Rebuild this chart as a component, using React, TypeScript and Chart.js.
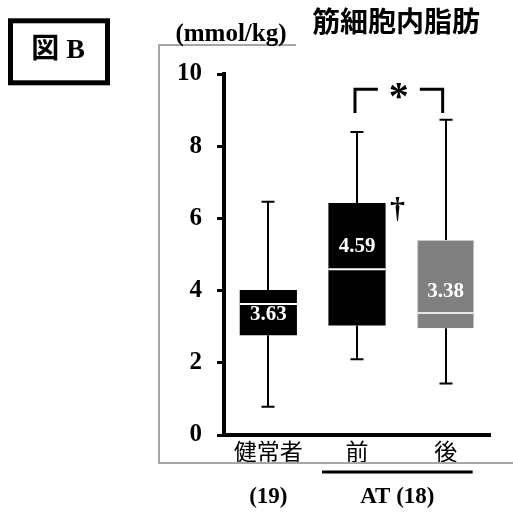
import { useEffect, useRef } from "react";
import { Chart, registerables } from "chart.js";

Chart.register(...registerables);

const categories = ["健常者", "前", "後"];
const whiskerLow = [0.78, 2.1, 1.43];
const q1 = [2.76, 3.03, 2.96];
const medians = [3.63, 4.59, 3.38];
const q3 = [4.02, 6.43, 5.4];
const whiskerHigh = [6.46, 8.39, 8.73];
const medianLabels = ["3.63", "4.59", "3.38"];
const yTicks = [0, 2, 4, 6, 8, 10];
const groupLabels = ["(19)", "AT (18)"];
const boxColors = ["#000000", "#000000", "#808080"];
const boxBorders = ["#000000", "#000000", "#c8c8c8"];

const SERIF = '"Liberation Serif", "Times New Roman", "Noto Sans CJK JP", serif';
const CJK = '"Noto Sans CJK JP", "Noto Sans CJK SC", sans-serif';

const labelOffsets = [11, -23, -21];

const boxExtras = {
  id: "boxExtras",
  afterDatasetsDraw(chart: any) {
    const ctx = chart.ctx;
    const y = chart.scales.y;
    const meta = chart.getDatasetMeta(0);
    ctx.save();
    categories.forEach((_c, i) => {
      const bar = meta.data[i];
      const cx = Math.round(bar.x);
      const half = bar.width / 2;
      const cap = 6.5;
      ctx.strokeStyle = "#000";
      ctx.lineWidth = 2;
      ctx.beginPath();
      ctx.moveTo(cx, y.getPixelForValue(q3[i]));
      ctx.lineTo(cx, y.getPixelForValue(whiskerHigh[i]));
      ctx.moveTo(cx, y.getPixelForValue(q1[i]));
      ctx.lineTo(cx, y.getPixelForValue(whiskerLow[i]));
      ctx.moveTo(cx - cap, y.getPixelForValue(whiskerHigh[i]));
      ctx.lineTo(cx + cap, y.getPixelForValue(whiskerHigh[i]));
      ctx.moveTo(cx - cap, y.getPixelForValue(whiskerLow[i]));
      ctx.lineTo(cx + cap, y.getPixelForValue(whiskerLow[i]));
      ctx.stroke();

      // median line
      ctx.strokeStyle = i === 2 ? "#e6e6e6" : "#ffffff";
      ctx.lineWidth = 2;
      const my = y.getPixelForValue(medians[i]);
      ctx.beginPath();
      ctx.moveTo(bar.x - half, my);
      ctx.lineTo(bar.x + half, my);
      ctx.stroke();

      // value label
      ctx.fillStyle = "#ffffff";
      ctx.font = `bold 21px ${SERIF}`;
      ctx.textAlign = "center";
      ctx.textBaseline = "middle";
      ctx.fillText(medianLabels[i], bar.x, my + labelOffsets[i]);
    });

    // dagger next to 前 box
    const b1 = meta.data[1];
    ctx.fillStyle = "#000";
    ctx.font = `bold 30px ${SERIF}`;
    ctx.textAlign = "center";
    ctx.textBaseline = "middle";
    ctx.fillText("†", b1.x + b1.width / 2 + 12, y.getPixelForValue(q3[1]) + 7);

    // significance bracket between 前 and 後
    const b2 = meta.data[2];
    const lx = b1.x - 2;
    const rx = b2.x - 3;
    const topY = y.getPixelForValue(9.58);
    const botY = y.getPixelForValue(8.92);
    const mid = (lx + rx) / 2;
    ctx.strokeStyle = "#000";
    ctx.lineWidth = 3;
    ctx.lineCap = "butt";
    ctx.beginPath();
    ctx.moveTo(lx, botY);
    ctx.lineTo(lx, topY);
    ctx.lineTo(mid - 21, topY);
    ctx.moveTo(mid + 21, topY);
    ctx.lineTo(rx, topY);
    ctx.lineTo(rx, botY);
    ctx.stroke();
    ctx.font = `bold 40px ${SERIF}`;
    ctx.textBaseline = "alphabetic";
    ctx.fillText("*", mid, topY + 20);
    ctx.restore();
  },
  afterDraw(chart: any) {
    const ctx = chart.ctx;
    const meta = chart.getDatasetMeta(0);
    const area = chart.chartArea;
    ctx.save();
    // gray frame
    ctx.strokeStyle = "#a6a6a6";
    ctx.lineWidth = 2;
    ctx.beginPath();
    ctx.moveTo(296, 45);
    ctx.lineTo(159, 45);
    ctx.lineTo(159, 463);
    ctx.lineTo(513, 463);
    ctx.stroke();

    // 図 B box
    ctx.strokeStyle = "#000";
    ctx.lineWidth = 5;
    ctx.strokeRect(10.5, 20.8, 97, 62);
    ctx.fillStyle = "#000";
    ctx.textAlign = "center";
    ctx.textBaseline = "middle";
    ctx.font = `bold 28px ${SERIF}`;
    ctx.fillText("図 B", 58, 51);

    // unit label
    ctx.font = `bold 25px ${SERIF}`;
    ctx.fillText("(mmol/kg)", 231, 35);

    // title
    ctx.font = `bold 28px ${CJK}`;
    ctx.fillText("筋細胞内脂肪", 396, 21);

    // AT underline
    const b1 = meta.data[1];
    const b2 = meta.data[2];
    ctx.lineWidth = 3;
    ctx.beginPath();
    ctx.moveTo(b1.x - 35, area.bottom + 37);
    ctx.lineTo(b2.x + 27, area.bottom + 37);
    ctx.stroke();

    // group labels
    ctx.font = `bold 23px ${SERIF}`;
    ctx.fillText(groupLabels[0], meta.data[0].x, area.bottom + 62);
    ctx.fillText(groupLabels[1], (b1.x - 35 + b2.x + 27) / 2, area.bottom + 62);
    ctx.restore();
  },
};

export default function App() {
  const ref = useRef<HTMLCanvasElement | null>(null);
  useEffect(() => {
    if (!ref.current) return;
    const chart = new Chart(ref.current, {
      type: "bar",
      data: {
        labels: categories,
        datasets: [
          {
            data: categories.map((_c, i) => [q1[i], q3[i]]) as any,
            backgroundColor: boxColors,
            borderColor: boxBorders,
            borderWidth: [0, 0, 1],
            barPercentage: 0.645,
            categoryPercentage: 1,
          },
        ],
      },
      options: {
        responsive: false,
        animation: false,
        layout: { padding: { left: 150, top: 74, right: 23, bottom: 0 } },
        plugins: { legend: { display: false }, tooltip: { enabled: false } },
        scales: {
          x: {
            grid: { display: false, drawTicks: false },
            border: { display: true, width: 4, color: "#000" },
            ticks: {
              color: "#000",
              font: { family: CJK, size: 23, weight: "normal" },
              padding: 2,
            },
            afterFit: (s: any) => {
              s.height = 86;
            },
          },
          y: {
            min: 0,
            max: 10,
            afterBuildTicks: (s: any) => {
              s.ticks = yTicks.map((v) => ({ value: v }));
            },
            grid: {
              display: true,
              drawOnChartArea: false,
              tickLength: 7,
              tickWidth: 3,
              tickColor: "#000",
            },
            border: { display: true, width: 4, color: "#000" },
            ticks: {
              color: "#000",
              font: { family: SERIF, size: 25, weight: "bold" },
              padding: 15,
            },
            afterFit: (s: any) => {
              s.width = 74;
            },
          },
        },
      },
      plugins: [boxExtras],
    });
    return () => chart.destroy();
  }, []);
  return (
    <div style={{ position: "fixed", left: 0, top: 0, width: 513, height: 521, background: "#fff" }}>
      <canvas ref={ref} width={513} height={521} style={{ display: "block" }} />
    </div>
  );
}
